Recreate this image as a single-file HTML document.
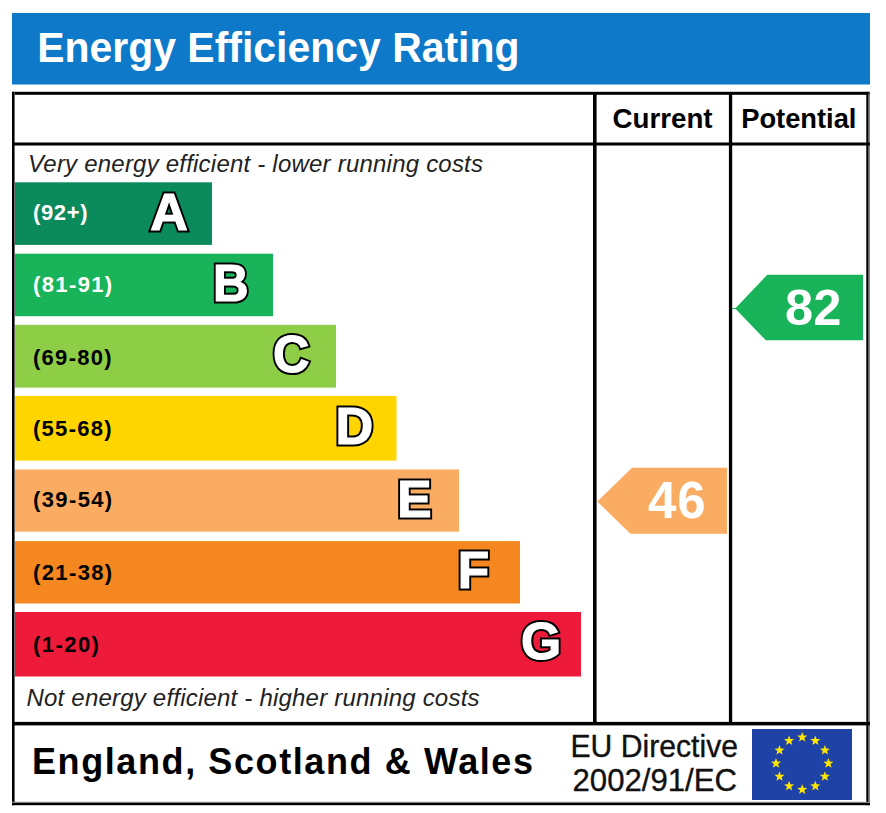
<!DOCTYPE html>
<html>
<head>
<meta charset="utf-8">
<style>
html,body{margin:0;padding:0;background:#fff;width:886px;height:813px;overflow:hidden;}
svg{display:block;}
text{font-family:"Liberation Sans",sans-serif;}
.b{font-weight:bold;}
.i{font-style:italic;}
.lo,.lf{font-weight:bold;font-size:52.50px;stroke-linejoin:miter;stroke-miterlimit:2;}
.lo{fill:#000;stroke:#000;stroke-width:5.2px;}
.lf{fill:#fff;stroke:#fff;stroke-width:1.2px;}
.lab{font-weight:bold;font-size:22px;}
</style>
</head>
<body>
<svg width="886" height="813" viewBox="0 0 886 813">
  <!-- header -->
  <rect x="12" y="13" width="858" height="71.5" fill="#0e79c8"/>
  <text x="37.2" y="62" class="b" font-size="43" fill="#fff" textLength="482.3" lengthAdjust="spacingAndGlyphs">Energy Efficiency Rating</text>

  <!-- outer box -->
  <rect x="12" y="91.8" width="858" height="3" fill="#000"/>
  <rect x="12" y="91.8" width="2.2" height="713.4" fill="#000"/>
  <rect x="14.2" y="91.8" width="0.8" height="713.4" fill="#555"/>
  <rect x="866.3" y="91.8" width="2.3" height="713.4" fill="#000"/>
  <rect x="868.6" y="91.8" width="1.2" height="713.4" fill="#666"/>
  <rect x="12" y="801.8" width="858" height="1.2" fill="#7a847a"/>
  <rect x="12" y="803" width="858" height="2.2" fill="#000"/>
  <!-- header row line -->
  <rect x="12" y="142.5" width="858" height="3" fill="#000"/>
  <!-- column dividers -->
  <rect x="593" y="92" width="3.6" height="632" fill="#000"/>
  <rect x="728.9" y="92" width="3.3" height="632" fill="#000"/>
  <!-- footer line -->
  <rect x="12" y="721.9" width="858" height="3.5" fill="#000"/>

  <!-- column headers -->
  <text x="612.6" y="128.3" class="b" font-size="27.7" fill="#000">Current</text>
  <text x="741.2" y="128.3" class="b" font-size="27.3" fill="#000">Potential</text>

  <text x="28" y="171.8" class="i" font-size="24" fill="#222" textLength="455" lengthAdjust="spacing">Very energy efficient - lower running costs</text>
  <text x="26.5" y="706.4" class="i" font-size="24" fill="#222" textLength="453" lengthAdjust="spacing">Not energy efficient - higher running costs</text>

  <!-- bars -->
  <rect x="15" y="182.3" width="197" height="62.6" fill="#0b8a5b"/>
  <rect x="15" y="253.7" width="258" height="62.5" fill="#19b459"/>
  <rect x="15" y="324.8" width="321" height="62.8" fill="#8dce46"/>
  <rect x="15" y="395.9" width="381.5" height="64.7" fill="#ffd500"/>
  <rect x="15" y="469.5" width="444" height="62.2" fill="#fbac63"/>
  <rect x="15" y="541.1" width="505" height="62.4" fill="#f4871f"/>
  <rect x="15" y="612" width="566" height="64.5" fill="#ed1b39"/>

  <text x="33" y="220" class="lab" fill="#fff" textLength="54.5" lengthAdjust="spacing">(92+)</text>
  <text x="33" y="291.7" class="lab" fill="#fff" textLength="79.2" lengthAdjust="spacing">(81-91)</text>
  <text x="33" y="364.5" class="lab" fill="#000" textLength="78.6" lengthAdjust="spacing">(69-80)</text>
  <text x="33" y="436.4" class="lab" fill="#000" textLength="78.6" lengthAdjust="spacing">(55-68)</text>
  <text x="33" y="507.2" class="lab" fill="#000" textLength="79.2" lengthAdjust="spacing">(39-54)</text>
  <text x="33" y="580.2" class="lab" fill="#000" textLength="79.2" lengthAdjust="spacing">(21-38)</text>
  <text x="33" y="652.2" class="lab" fill="#000" textLength="65.9" lengthAdjust="spacing">(1-20)</text>


<!--LETTERS-->
  <text x="150.20" y="229.90" textLength="37.62" lengthAdjust="spacingAndGlyphs" class="lo">A</text><text x="150.20" y="229.90" textLength="37.62" lengthAdjust="spacingAndGlyphs" class="lf">A</text>
  <text x="212.95" y="301.45" textLength="35.59" lengthAdjust="spacingAndGlyphs" class="lo">B</text><text x="212.95" y="301.45" textLength="35.59" lengthAdjust="spacingAndGlyphs" class="lf">B</text>
  <text x="272.95" y="371.75" textLength="36.35" lengthAdjust="spacingAndGlyphs" class="lo">C</text><text x="272.95" y="371.75" textLength="36.35" lengthAdjust="spacingAndGlyphs" class="lf">C</text>
  <text x="335.60" y="444.40" textLength="37.73" lengthAdjust="spacingAndGlyphs" class="lo">D</text><text x="335.60" y="444.40" textLength="37.73" lengthAdjust="spacingAndGlyphs" class="lf">D</text>
  <text x="397.30" y="516.75" textLength="34.34" lengthAdjust="spacingAndGlyphs" class="lo">E</text><text x="397.30" y="516.75" textLength="34.34" lengthAdjust="spacingAndGlyphs" class="lf">E</text>
  <text x="457.80" y="588.25" textLength="31.44" lengthAdjust="spacingAndGlyphs" class="lo">F</text><text x="457.80" y="588.25" textLength="31.44" lengthAdjust="spacingAndGlyphs" class="lf">F</text>
  <text x="521.05" y="659.45" textLength="40.24" lengthAdjust="spacingAndGlyphs" class="lo">G</text><text x="521.05" y="659.45" textLength="40.24" lengthAdjust="spacingAndGlyphs" class="lf">G</text>
  <!-- arrows -->
  <polygon points="597.3,501.6 632,467.7 727,467.7 727,533.7 630.4,533.7" fill="#fbac63"/>
  <text x="648" y="518" class="b" font-size="51" letter-spacing="1" fill="#fff">46</text>
  <polygon points="735.2,308.5 767.3,274.7 863,274.7 863,340.3 765.8,340.3" fill="#19b459"/><rect x="732" y="308" width="4" height="1" fill="#19b459"/>
  <text x="785" y="325" class="b" font-size="50.6" letter-spacing="0" fill="#fff">82</text>

  <!-- footer -->
  <text x="32" y="774" class="b" font-size="36" fill="#000" textLength="501" lengthAdjust="spacing">England, Scotland &amp; Wales</text>
  <text x="570.5" y="756.6" font-size="32" fill="#111" stroke="#111" stroke-width="0.35" textLength="167.5" lengthAdjust="spacingAndGlyphs">EU Directive</text>
  <text x="572.5" y="791.4" font-size="32" fill="#111" stroke="#111" stroke-width="0.35" textLength="164.5" lengthAdjust="spacingAndGlyphs">2002/91/EC</text>

  <!-- EU flag -->
  <rect x="752" y="729" width="100" height="71" fill="#1f42a6"/>
  <g fill="#ffe600">
    <polygon points="802.20,731.90 803.51,735.40 807.24,735.56 804.32,737.89 805.32,741.49 802.20,739.43 799.08,741.49 800.08,737.89 797.16,735.56 800.89,735.40"/>
    <polygon points="815.30,735.41 816.61,738.91 820.34,739.07 817.42,741.40 818.42,745.00 815.30,742.94 812.18,745.00 813.18,741.40 810.26,739.07 813.99,738.91"/>
    <polygon points="824.89,745.00 826.20,748.50 829.93,748.66 827.01,750.99 828.01,754.59 824.89,752.53 821.77,754.59 822.77,750.99 819.85,748.66 823.58,748.50"/>
    <polygon points="828.40,758.10 829.71,761.60 833.44,761.76 830.52,764.09 831.52,767.69 828.40,765.63 825.28,767.69 826.28,764.09 823.36,761.76 827.09,761.60"/>
    <polygon points="824.89,771.20 826.20,774.70 829.93,774.86 827.01,777.19 828.01,780.79 824.89,778.73 821.77,780.79 822.77,777.19 819.85,774.86 823.58,774.70"/>
    <polygon points="815.30,780.79 816.61,784.29 820.34,784.45 817.42,786.78 818.42,790.38 815.30,788.32 812.18,790.38 813.18,786.78 810.26,784.45 813.99,784.29"/>
    <polygon points="802.20,784.30 803.51,787.80 807.24,787.96 804.32,790.29 805.32,793.89 802.20,791.83 799.08,793.89 800.08,790.29 797.16,787.96 800.89,787.80"/>
    <polygon points="789.10,780.79 790.41,784.29 794.14,784.45 791.22,786.78 792.22,790.38 789.10,788.32 785.98,790.38 786.98,786.78 784.06,784.45 787.79,784.29"/>
    <polygon points="779.51,771.20 780.82,774.70 784.55,774.86 781.63,777.19 782.63,780.79 779.51,778.73 776.39,780.79 777.39,777.19 774.47,774.86 778.20,774.70"/>
    <polygon points="776.00,758.10 777.31,761.60 781.04,761.76 778.12,764.09 779.12,767.69 776.00,765.63 772.88,767.69 773.88,764.09 770.96,761.76 774.69,761.60"/>
    <polygon points="779.51,745.00 780.82,748.50 784.55,748.66 781.63,750.99 782.63,754.59 779.51,752.53 776.39,754.59 777.39,750.99 774.47,748.66 778.20,748.50"/>
    <polygon points="789.10,735.41 790.41,738.91 794.14,739.07 791.22,741.40 792.22,745.00 789.10,742.94 785.98,745.00 786.98,741.40 784.06,739.07 787.79,738.91"/>
  </g>
</svg>
</body>
</html>
